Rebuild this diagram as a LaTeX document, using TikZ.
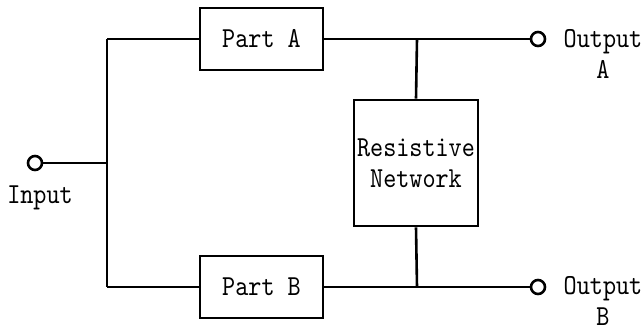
\documentclass[tikz,border=0pt]{standalone}
\usepackage{fontspec}
\newfontfamily\diagtt[FakeStretch=0.86]{lmmono10-regular.otf}
\newcommand\diagfont{\diagtt\fontsize{29}{31}\selectfont}
\begin{document}
\begin{tikzpicture}[x=1pt,y=-1pt,
  wire/.style={line width=2.6pt},
  blk/.style={draw,line width=2.6pt,rectangle,inner sep=0pt,align=center,font=\diagfont},
  term/.style={draw,line width=2.6pt,circle,fill=white,minimum size=14pt,inner sep=0pt},
  lbl/.style={inner sep=0pt,align=center,font=\diagfont}]
\useasboundingbox (0,0) rectangle (644,332);
\node[term] (in) at (35,163) {};
\node[lbl] (inl) at (40,198) {Input};
\coordinate (j) at (107,163);
\coordinate (ja) at (107,39);
\coordinate (jb) at (107,287);
\node[blk,minimum width=123pt,minimum height=62pt] (pa) at (261.5,39) {Part A};
\node[blk,minimum width=123pt,minimum height=62pt] (pb) at (261.5,287) {Part B};
\node[blk,minimum width=124pt,minimum height=126pt] (res) at (416,163) {Resistive\\Network};
\coordinate (ra) at (417,39);
\coordinate (rb) at (417,287);
\node[term] (oa) at (538,39) {};
\node[term] (ob) at (538,287) {};
\node[lbl,anchor=north] (oal) at (603,29) {Output\\A};
\node[lbl,anchor=north] (obl) at (603,276) {Output\\B};
\draw[wire] (in) -- (j);
\draw[wire] (ja) -- (jb);
\draw[wire] (ja) -- (pa.west);
\draw[wire] (jb) -- (pb.west);
\draw[wire] (pa.east) -- (ra) -- (oa);
\draw[wire] (pb.east) -- (rb) -- (ob);
\draw[wire] (ra) -- (res.north);
\draw[wire] (rb) -- (res.south);
\end{tikzpicture}
\end{document}
